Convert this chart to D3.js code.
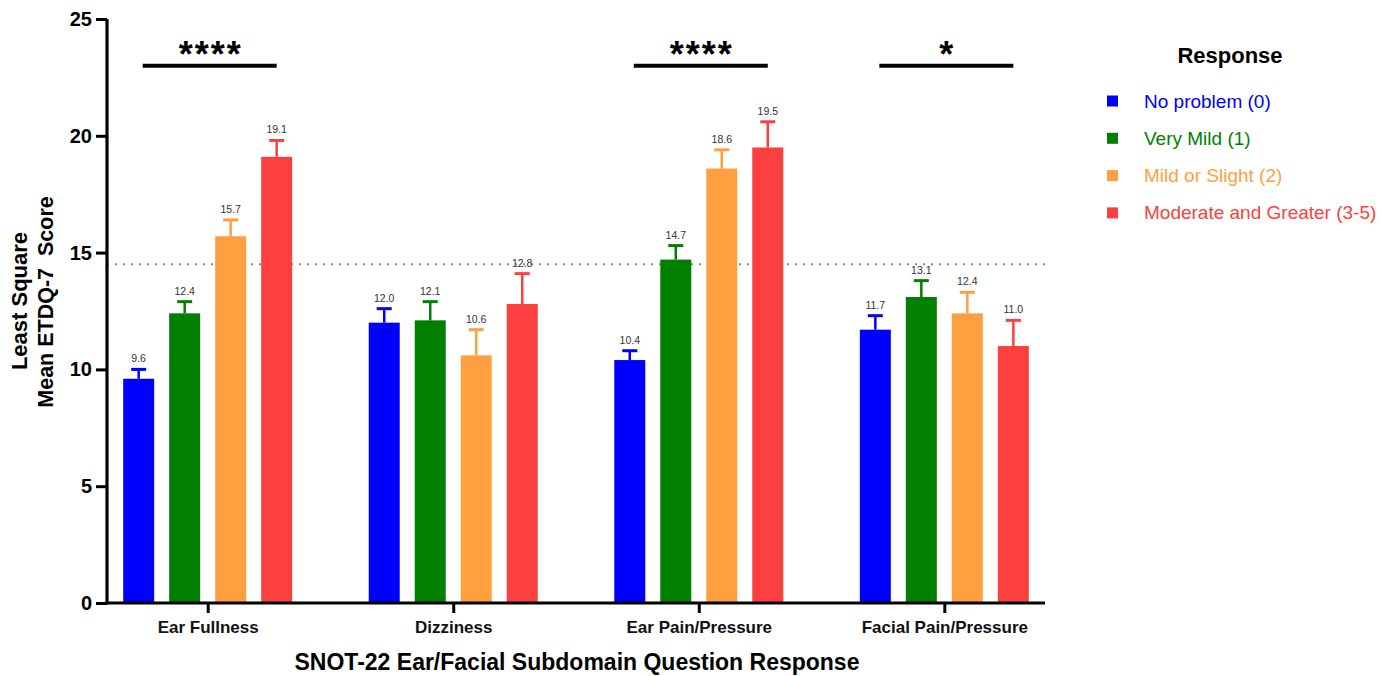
<!DOCTYPE html>
<html><head><meta charset="utf-8">
<script src="https://cdn.jsdelivr.net/npm/d3@7"></script>
<style>body{margin:0;background:#fff;} svg{display:block;font-family:'Liberation Sans',Arial,sans-serif;}</style>
</head><body>
<svg id="chart" width="1381" height="676"></svg>
<script>
const categories = ["Ear Fullness","Dizziness","Ear Pain/Pressure","Facial Pain/Pressure"];
const seriesNames = ["No problem (0)","Very Mild (1)","Mild or Slight (2)","Moderate and Greater (3-5)"];
const seriesColors = ["#0000FF","#007F00","#FF9F40","#FC4040"];
const noProblem = [9.6,12.0,10.4,11.7];
const veryMild = [12.4,12.1,14.7,13.1];
const mildSlight = [15.7,10.6,18.6,12.4];
const moderate = [19.1,12.8,19.5,11.0];
const noProblemErr = [0.4,0.6,0.4,0.6];
const veryMildErr = [0.5,0.8,0.6,0.7];
const mildSlightErr = [0.7,1.1,0.8,0.9];
const moderateErr = [0.7,1.3,1.1,1.1];
const significance = ["****","","****","*"];
const yTicks = [0,5,10,15,20,25];
const refValue = 14.5;
const bracketValue = 23;

const seriesValues = [noProblem, veryMild, mildSlight, moderate];
const seriesErrors = [noProblemErr, veryMildErr, mildSlightErr, moderateErr];

const svg = d3.select("#chart");
const x0 = 107, x1 = 1045, yTop = 19, yBot = 603;
const y = d3.scaleLinear().domain([0,25]).range([yBot,yTop]);
const xCat = d3.scalePoint().domain(categories).range([x0,x1]).padding(0.41);
const xSer = d3.scaleBand().domain(seriesNames).range([-92,92]).paddingInner(0.326).paddingOuter(0.163);

// reference line
svg.append("line").attr("x1",x0).attr("x2",x1).attr("y1",y(refValue)).attr("y2",y(refValue))
  .attr("stroke","#8a8a8a").attr("stroke-width",2).attr("stroke-dasharray","2,6");

// bars
const data = [];
categories.forEach((c,ci)=>seriesNames.forEach((s,si)=>data.push({c,s,si,v:seriesValues[si][ci],e:seriesErrors[si][ci]})));
const g = svg.append("g");
const bw = xSer.bandwidth();
data.forEach(d=>{
  const cx = xCat(d.c)+xSer(d.s)+bw/2;
  const col = seriesColors[d.si];
  g.append("line").attr("x1",cx).attr("x2",cx).attr("y1",y(d.v)).attr("y2",y(d.v+d.e)).attr("stroke",col).attr("stroke-width",2.5);
  g.append("line").attr("x1",cx-7.5).attr("x2",cx+7.5).attr("y1",y(d.v+d.e)).attr("y2",y(d.v+d.e)).attr("stroke",col).attr("stroke-width",3);
  g.append("rect").attr("x",cx-bw/2).attr("width",bw).attr("y",y(d.v)).attr("height",y(0)-y(d.v))
    .attr("fill",col);
  g.append("text").attr("x",cx).attr("y",y(d.v+d.e)-7).attr("text-anchor","middle")
    .attr("font-size",10.5).attr("fill","#333").text(d.v.toFixed(1));
});

// y axis
const yAxis = svg.append("g").attr("transform",`translate(${x0},0)`)
  .call(d3.axisLeft(y).tickValues(yTicks).tickSize(11).tickPadding(4));
yAxis.select(".domain").attr("d",`M0,${yTop}V${yBot+1.5}`).attr("stroke","#000").attr("stroke-width",3.2);
yAxis.selectAll(".tick line").attr("stroke","#000").attr("stroke-width",3);
yAxis.selectAll(".tick text").attr("font-size",20).attr("font-weight","bold").attr("fill","#000")
  .attr("font-family","'Liberation Sans',Arial,sans-serif");

// x axis
const xAxis = svg.append("g").attr("transform",`translate(0,${yBot})`)
  .call(d3.axisBottom(xCat).tickSize(10).tickPadding(8));
xAxis.select(".domain").attr("d",`M${x0-1.5},0H${x1}`).attr("stroke","#000").attr("stroke-width",3.2);
xAxis.selectAll(".tick line").attr("stroke","#000").attr("stroke-width",3);
xAxis.selectAll(".tick text").attr("font-size",17).attr("font-weight","bold").attr("fill","#111")
  .attr("font-family","'Liberation Sans',Arial,sans-serif");

// significance
categories.forEach((c,ci)=>{
  if(!significance[ci]) return;
  const cx = xCat(c);
  svg.append("line").attr("x1",cx-65).attr("x2",cx+69).attr("y1",y(bracketValue)).attr("y2",y(bracketValue))
    .attr("stroke","#000").attr("stroke-width",4);
  svg.append("text").attr("x",cx+3).attr("y",y(bracketValue)+1).attr("text-anchor","middle")
    .attr("font-size",36).attr("font-weight","bold").attr("letter-spacing",2).attr("fill","#000").text(significance[ci]);
});

// axis titles
svg.append("text").attr("transform","translate(27,301) rotate(-90)").attr("text-anchor","middle")
  .attr("font-size",22).attr("font-weight","bold").text("Least Square");
svg.append("text").attr("transform","translate(53,302) rotate(-90)").attr("text-anchor","middle")
  .attr("font-size",21.5).attr("font-weight","bold").text("Mean ETDQ-7\u00A0\u00A0Score");
svg.append("text").attr("x",577).attr("y",670).attr("text-anchor","middle")
  .attr("font-size",23).attr("font-weight","bold").text("SNOT-22 Ear/Facial Subdomain Question Response");

// legend
svg.append("text").attr("x",1230).attr("y",63).attr("text-anchor","middle")
  .attr("font-size",22).attr("font-weight","bold").text("Response");
const leg = svg.append("g");
seriesNames.forEach((s,i)=>{
  const cy = 101 + i*37.3;
  leg.append("rect").attr("x",1107).attr("y",cy-5.5).attr("width",11).attr("height",11).attr("fill",seriesColors[i]);
  leg.append("text").attr("x",1144).attr("y",cy+6.5).attr("font-size",19).attr("fill",seriesColors[i]).text(s);
});
</script>
</body></html>
